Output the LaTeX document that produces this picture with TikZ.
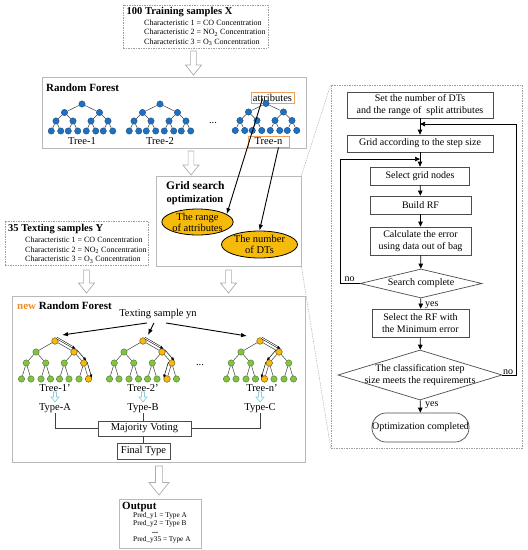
\documentclass[tikz,border=0pt]{standalone}
\usepackage{fontspec}
\setmainfont{Liberation Serif}
\usetikzlibrary{shapes.geometric,arrows.meta,calc}

\definecolor{treeblue}{RGB}{30,112,192}
\definecolor{leafgreen}{RGB}{128,196,64}
\definecolor{pathorange}{RGB}{248,184,16}
\definecolor{ellgold}{RGB}{246,186,10}
\definecolor{boxorange}{RGB}{238,160,90}
\definecolor{neworange}{RGB}{240,140,40}
\definecolor{hintblue}{RGB}{140,205,225}

\tikzset{
  box/.style={draw=gray!55, line width=0.8pt, inner sep=0pt},
  dashbox/.style={draw=gray!75, line width=0.6pt, dash pattern=on 1.5pt off 1pt, inner sep=0pt},
  headtext/.style={anchor=west, inner sep=0pt, font=\fontsize{10.5}{12}\selectfont\bfseries},
  txt/.style={inner sep=0pt, font=\fontsize{10.5}{11}\selectfont},
  list/.style={anchor=north west, inner sep=0pt, align=left, font=\fontsize{8}{9.6}\selectfont},
  bnode/.style={circle, fill=treeblue, draw=treeblue!60!black, line width=0.3pt, minimum size=6.4pt, inner sep=0pt},
  gnode/.style={circle, fill=leafgreen, draw=leafgreen!50!black, line width=0.3pt, minimum size=6.4pt, inner sep=0pt},
  onode/.style={gnode, fill=pathorange, draw=pathorange!50!black},
  treeedge/.style={draw=black!75, line width=0.5pt},
  tag/.style={draw=boxorange, line width=0.8pt, inner sep=0pt, font=\fontsize{10.5}{11}\selectfont},
  gold/.style={ellipse, draw=black, line width=0.8pt, fill=ellgold, inner sep=0pt, align=center, font=\fontsize{10.5}{11}\selectfont},
  flow/.style={draw=black!70, line width=0.7pt, inner sep=0pt, align=center, font=\fontsize{10}{11.5}\selectfont},
  decide/.style={flow, diamond},
  flowtext/.style={inner sep=0pt, align=center, font=\fontsize{10}{11.5}\selectfont},
  flowarrow/.style={draw=black, line width=0.7pt, -{Triangle[length=5pt,width=4.5pt]}},
  pick/.style={draw=black, line width=0.9pt, -{Latex[length=6pt,width=4.5pt]}},
  walk/.style={draw=black, line width=0.5pt, -{Latex[length=3.5pt,width=3pt]}},
  vote/.style={draw=black!75, line width=0.8pt},
  zoomline/.style={draw=gray!60, line width=0.5pt, dash pattern=on 1.5pt off 1pt},
  predtext/.style={inner sep=0pt, font=\fontsize{7.3}{6}\selectfont},
}

% hollow arrow pointing down: x, top, bottom, half head width
\newcommand\fatdown[5][gray!65]{%
  \draw[#1, fill=white, line width=0.7pt]
    (#2-0.36*#5,#3) -- (#2+0.36*#5,#3) -- (#2+0.36*#5,#4-1.25*#5) -- (#2+#5,#4-1.25*#5)
    -- (#2,#4) -- (#2-#5,#4-1.25*#5) -- (#2-0.36*#5,#4-1.25*#5) -- cycle;}

% binary tree of depth three: name, x, y, style, dx per level, dy, dy of leaves
\newcommand\rftree[9]{%
  \node[#4] (#1-r) at (#2,#3) {};
  \foreach \ga/\da in {1/-1,2/1}{
    \node[#4] (#1-\ga) at ($(#1-r)+(\da*#5,#8)$) {};
    \draw[treeedge] (#1-r) -- (#1-\ga);
    \foreach \gb/\db in {1/-1,2/1}{
      \node[#4] (#1-\ga\gb) at ($(#1-\ga)+(\db*#6,#8)$) {};
      \draw[treeedge] (#1-\ga) -- (#1-\ga\gb);
      \foreach \gc/\dc in {1/-1,2/1}{
        \node[#4] (#1-\ga\gb\gc) at ($(#1-\ga\gb)+(\dc*#7,#9)$) {};
        \draw[treeedge] (#1-\ga\gb) -- (#1-\ga\gb\gc);
      }
    }
  }}
\newcommand\bluetree[3]{\rftree{#1}{#2}{#3}{bnode}{17.5}{8.5}{4.75}{8.5}{10}}
\newcommand\greentree[3]{\rftree{#1}{#2}{#3}{gnode}{19}{9.75}{4.75}{11}{16}}

% path of a sample through a tree
\newcommand\walkr[2]{\draw[walk] ($(#1)!3.5pt!90:(#2)$) -- ($(#2)!3.5pt!-90:(#1)$);}
\newcommand\walkl[2]{\draw[walk] ($(#1)!3.5pt!-90:(#2)$) -- ($(#2)!3.5pt!90:(#1)$);}
\newcommand\walkd[2]{\draw[walk, double, double distance=0.9pt] ($(#1)!3.5pt!90:(#2)$) -- ($(#2)!3.5pt!-90:(#1)$);}

\begin{document}
\begin{tikzpicture}[x=1pt, y=-1pt]
\useasboundingbox (0,0) rectangle (528,550);

%------------------------------------------------
% Training samples
%------------------------------------------------

\node[dashbox, minimum width=145pt, minimum height=43pt] (train) at (195.5,26.5) {};
\node[headtext] (traintitle) at (126.5,12.5) {100 Training samples X};
\node[list] (trainlist) at (144,19.5) {Characteristic 1 = CO Concentration\\
  Characteristic 2 = NO\textsubscript{2} Concentration\\
  Characteristic 3 = O\textsubscript{3} Concentration};

\fatdown{193.5}{51}{75}{8}

%------------------------------------------------
% Random forest
%------------------------------------------------

\node[box, minimum width=264pt, minimum height=71pt] (rf) at (174,112.5) {};
\node[headtext, font=\fontsize{11}{12}\selectfont\bfseries] (rftitle) at (46,87.5) {Random Forest};

\node[tag, minimum width=43pt, minimum height=11pt] (attr) at (272.5,97.5) {attributes};
\node[tag, minimum width=41pt, minimum height=11pt] (lbln) at (268.5,141.5) {Tree-n};

\bluetree{b1}{82}{104}
\bluetree{b2}{160}{104}
\bluetree{bn}{266}{103.5}

\node[txt] (lbl1) at (82,141.5) {Tree-1};
\node[txt] (lbl2) at (160,141.5) {Tree-2};
\node[txt, anchor=base] (bdots) at (213,123) {...};

\fatdown{191}{151}{175}{8}

%------------------------------------------------
% Grid search
%------------------------------------------------

\node[box, minimum width=145pt, minimum height=90pt] (gridbox) at (228.5,221) {};
\node[headtext, font=\fontsize{11.5}{12}\selectfont\bfseries] (gridtitle) at (166,186) {Grid search};
\node[headtext] (gridsub) at (166.5,199.5) {optimization};

\node[gold, minimum width=71pt, minimum height=22pt] (range) at (197.5,222) {The range\\of attributes};
\node[gold, minimum width=76pt, minimum height=27pt] (number) at (259.5,244.5) {The number\\of DTs};

\draw[pick] ($(attr.center)+(-10,1)$) -- (range.15);
\draw[pick] ($(lbln.south)+(10,0)$) -- (number.north);

%------------------------------------------------
% Optimization flowchart
%------------------------------------------------

\node[dashbox, minimum width=191pt, minimum height=363pt] (zoom) at (426.5,266.5) {};
\draw[zoomline] (gridbox.north east) -- (zoom.north west);
\draw[zoomline] (gridbox.south east) -- (zoom.south west);

\node[flow, minimum width=146pt, minimum height=26pt] (setn) at (420,105) {Set the number of DTs\\and the range of \ split attributes};
\node[flow, minimum width=146pt, minimum height=17pt] (gridn) at (420,143.5) {Grid according to the step size};
\node[flow, minimum width=99pt, minimum height=18pt] (selgrid) at (420,176) {Select grid nodes};
\node[flow, minimum width=101pt, minimum height=18pt] (build) at (420.5,205) {Build RF};
\node[flow, minimum width=101pt, minimum height=28pt] (calc) at (420.5,241) {Calculate the error\\using data out of bag};
\node[decide, minimum width=122pt, minimum height=29pt] (search) at (421,283.5) {};
\node[flowtext] (searchtxt) at (search) {Search complete};
\node[flow, minimum width=97pt, minimum height=28pt] (selrf) at (420.5,323) {Select the RF with\\the Minimum error};
\node[decide, minimum width=164pt, minimum height=50pt] (check) at (420,375) {};
\node[flowtext] (checktxt) at (check) {The classification step\\size meets the requirements};
\node[flow, rounded corners=14pt, minimum width=97pt, minimum height=29pt] (done) at (420.5,427.5) {Optimization completed};

\draw[flowarrow] (setn) -- (gridn);
\draw[flowarrow] (gridn) -- (selgrid);
\draw[flowarrow] (selgrid) -- (build);
\draw[flowarrow] (build) -- (calc);
\draw[flowarrow] (calc) -- (search);
\draw[flowarrow] (search) -- (selrf);
\draw[flowarrow] (selrf) -- (check);
\draw[flowarrow] (check) -- (done);

\draw[flowarrow] (check.east) -- ++(14,0) |- ($(setn.south)!0.35!(gridn.north)$);
\draw[flowarrow] (search.west) -- ++(-19,0) |- ($(gridn.south)!0.47!(selgrid.north)$);

\node[flowtext, anchor=base west] (yes1) at (425,306) {yes};
\node[flowtext, anchor=base west] (yes2) at (425,406.5) {yes};
\node[flowtext, anchor=base west] (no1) at (344.5,281.5) {no};
\node[flowtext, anchor=base west] (no2) at (503,374) {no};

%------------------------------------------------
% Texting samples
%------------------------------------------------

\node[dashbox, minimum width=143pt, minimum height=44pt] (test) at (76.5,243) {};
\node[headtext] (testtitle) at (8,229.5) {35 Texting samples Y};
\node[list] (testlist) at (25,237) {Characteristic 1 = CO Concentration\\
  Characteristic 2 = NO\textsubscript{2} Concentration\\
  Characteristic 3 = O\textsubscript{3} Concentration};

\fatdown{86.5}{270}{293}{8}
\fatdown{228.5}{270}{293}{8}

%------------------------------------------------
% New random forest
%------------------------------------------------

\node[box, minimum width=293pt, minimum height=166pt] (newrf) at (158.5,379) {};
\node[headtext, font=\fontsize{11}{12}\selectfont\bfseries] (newtitle) at (17,305.5) {\textcolor{neworange}{new} Random Forest};
\node[txt] (yn) at (158,314) {Texting sample yn};

\greentree{g1}{55}{341}
\greentree{g2}{143}{341}
\greentree{gn}{260}{341}

\foreach \n in {r,2,22,222} \node[onode] (g1-hl\n) at (g1-\n) {};
\foreach \n in {r,2,22,221} \node[onode] (g2-hl\n) at (g2-\n) {};
\foreach \n in {r,2,21,211} \node[onode] (gn-hl\n) at (gn-\n) {};

\walkd{g1-r}{g1-2} \walkr{g1-2}{g1-22} \walkr{g1-22}{g1-222}
\walkd{g2-r}{g2-2} \walkr{g2-2}{g2-22} \walkl{g2-22}{g2-221}
\walkd{gn-r}{gn-2} \walkl{gn-2}{gn-21} \walkl{gn-21}{gn-211}

\draw[pick] ($(yn.south)+(-11,4)$) -- ($(g1-r)+(7,-6)$);
\draw[pick] ($(yn.south)+(-4,4)$) -- ($(g2-r)+(5,-6)$);
\draw[pick] ($(yn.south)+(8,4)$) -- ($(gn-r)+(-13,-5)$);

\node[txt] (lbl1n) at (55,388) {Tree-1'};
\node[txt] (lbl2n) at (143,388) {Tree-2'};
\node[txt] (lblnn) at (262,388) {Tree-n'};
\node[txt, anchor=base] (gdots) at (200,365) {...};

\fatdown[hintblue]{55}{392}{402}{4}
\fatdown[hintblue]{143}{392}{402}{4}
\fatdown[hintblue]{260}{392}{402}{4}

\node[txt] (typeA) at (55,408.5) {Type-A};
\node[txt] (typeB) at (143,408.5) {Type-B};
\node[txt] (typeC) at (260,408.5) {Type-C};

\node[flow, font=\fontsize{10.5}{11}\selectfont, minimum width=93pt, minimum height=15pt] (mv) at (144.5,428.5) {Majority Voting};
\node[flow, font=\fontsize{10.5}{11}\selectfont, minimum width=53pt, minimum height=16pt] (final) at (143.5,451) {Final Type};

\draw[vote] (typeA.south) |- (mv.west);
\draw[vote] (typeB.south) -- (typeB.south |- mv.north);
\draw[vote] (typeC.south) |- (mv.east);
\draw[vote] (mv.south -| final.north) -- (final.north);

\fatdown{159}{466}{495}{10}

%------------------------------------------------
% Output
%------------------------------------------------

\node[box, minimum width=82pt, minimum height=49pt] (out) at (160,523.5) {};
\node[headtext, font=\fontsize{11}{12}\selectfont\bfseries] (outtitle) at (122,507) {Output};
\node[predtext, anchor=north west, align=left] (pred12) at (133,512.5) {Pred\_y1 = Type A\\Pred\_y2 = Type B};
\node[predtext, font=\fontsize{8}{8}\selectfont\bfseries, anchor=base] (preddots) at (155,533) {...};
\node[predtext, anchor=base west] (pred35) at (133,541.5) {Pred\_y35 = Type A};

\end{tikzpicture}
\end{document}
